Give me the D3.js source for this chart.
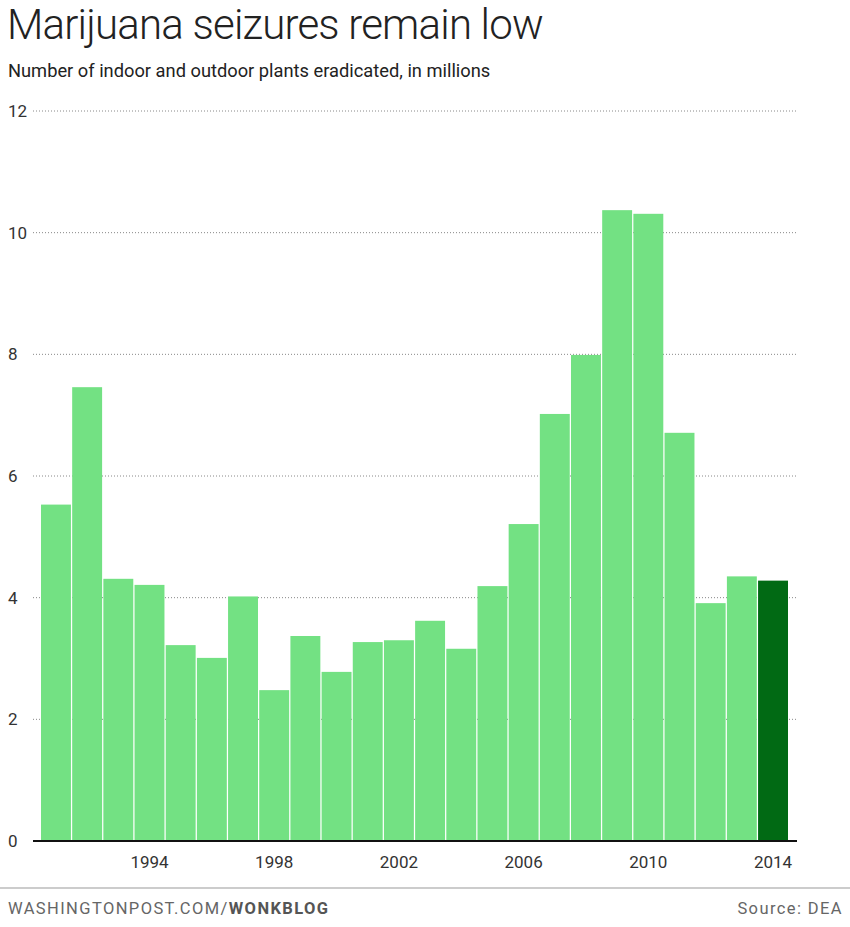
<!DOCTYPE html>
<html><head><meta charset="utf-8">
<script src="https://cdn.jsdelivr.net/npm/d3@7"></script>
<style>body{margin:0;background:#fff;font-family:Roboto,sans-serif}</style>
</head><body>
<svg id="c" width="850" height="927"></svg>
<script>
const years = [1991,1992,1993,1994,1995,1996,1997,1998,1999,2000,2001,2002,2003,2004,2005,2006,2007,2008,2009,2010,2011,2012,2013,2014];
const values = [5.53,7.46,4.31,4.21,3.22,3.01,4.02,2.48,3.37,2.78,3.27,3.30,3.62,3.16,4.19,5.21,7.02,7.99,10.37,10.31,6.71,3.91,4.35,4.28];
const yTicks = [0,2,4,6,8,10,12];
const xTickYears = [1994,1998,2002,2006,2010,2014];

const svg = d3.select("#c");
const x = d3.scaleBand().domain(years).range([41,788]).paddingInner(0.04).paddingOuter(0);
const y = d3.scaleLinear().domain([0,12]).range([841,111]);

svg.append("text").attr("x",7).attr("y",39).attr("font-size",42).attr("font-weight",300)
  .attr("fill","#222").attr("letter-spacing",-0.8).text("Marijuana seizures remain low");
svg.append("text").attr("x",8).attr("y",77).attr("font-size",18.3).attr("fill","#222")
  .text("Number of indoor and outdoor plants eradicated, in millions");

const g = svg.append("g");
yTicks.forEach(t=>{
  if(t>0) g.append("line").attr("x1",33).attr("x2",797).attr("y1",y(t)).attr("y2",y(t))
    .attr("stroke","#888").attr("stroke-dasharray","1,2");
  g.append("text").attr("x",8).attr("y",y(t)+6).attr("font-size",17).attr("fill","#333").text(t);
});

svg.selectAll("rect.b").data(years).join("rect").attr("class","b")
  .attr("x",d=>x(d)).attr("width",x.bandwidth())
  .attr("y",(d,i)=>y(values[i])).attr("height",(d,i)=>y(0)-y(values[i]))
  .attr("fill",d=>d===2014?"#016a14":"#73e183");

svg.append("line").attr("x1",33).attr("x2",797).attr("y1",y(0)).attr("y2",y(0)).attr("stroke","#111").attr("stroke-width",2);

xTickYears.forEach(t=>{
  svg.append("text").attr("x",x(t)+x.bandwidth()/2).attr("y",868).attr("text-anchor","middle")
    .attr("font-size",17).attr("fill","#333").text(t);
});

svg.append("line").attr("x1",0).attr("x2",850).attr("y1",888).attr("y2",888).attr("stroke","#999");
const f = svg.append("text").attr("x",8).attr("y",914).attr("font-size",16.5).attr("fill","#666")
  .attr("letter-spacing",1.4);
f.append("tspan").text("WASHINGTONPOST.COM/");
f.append("tspan").attr("font-weight","bold").attr("fill","#555").text("WONKBLOG");
svg.append("text").attr("x",843).attr("y",914).attr("text-anchor","end").attr("font-size",16.5).attr("fill","#666")
  .attr("letter-spacing",1.4).text("Source: DEA");
</script>
</body></html>
